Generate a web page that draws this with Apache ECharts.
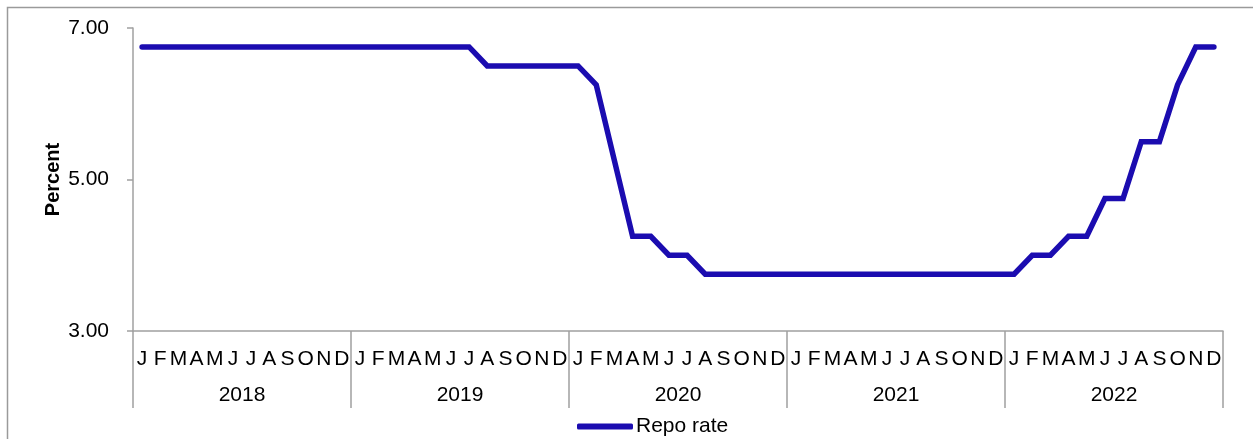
<!DOCTYPE html>
<html>
<head>
<meta charset="utf-8">
<script src="https://cdn.jsdelivr.net/npm/echarts@6/dist/echarts.min.js"></script>
<style>
  html, body { margin: 0; padding: 0; background: #fff; }
  #repoChart { width: 1253px; height: 439px; }
</style>
</head>
<body>
<div id="repoChart"></div>
<script>
// month letters, repeated for each year
const monthLetters = ['J', 'F', 'M', 'A', 'M', 'J', 'J', 'A', 'S', 'O', 'N', 'D']
const years = ['2018', '2019', '2020', '2021', '2022']

// repo rate (%) per month
const repo2018 = [6.75, 6.75, 6.75, 6.75, 6.75, 6.75, 6.75, 6.75, 6.75, 6.75, 6.75, 6.75]
const repo2019 = [6.75, 6.75, 6.75, 6.75, 6.75, 6.75, 6.75, 6.5, 6.5, 6.5, 6.5, 6.5]
const repo2020 = [6.5, 6.25, 5.25, 4.25, 4.25, 4.0, 4.0, 3.75, 3.75, 3.75, 3.75, 3.75]
const repo2021 = [3.75, 3.75, 3.75, 3.75, 3.75, 3.75, 3.75, 3.75, 3.75, 3.75, 3.75, 3.75]
const repo2022 = [3.75, 4.0, 4.0, 4.25, 4.25, 4.75, 4.75, 5.5, 5.5, 6.25, 6.75, 6.75]

const yTicks = [3, 5, 7]

let monthAxis = []
years.forEach(() => { monthAxis = monthAxis.concat(monthLetters) })
const repoRate = [].concat(repo2018, repo2019, repo2020, repo2021, repo2022)

const chart = echarts.init(document.getElementById('repoChart'))
const font = 'Liberation Sans, Arial, sans-serif'
const axisGrey = '#a0a0a0'

const option = {
  animation: false,
  backgroundColor: '#fff',
  graphic: [
    {
      // outer chart-area border (only top and left visible)
      type: 'rect',
      shape: { x: 7.5, y: 7.5, width: 1300, height: 500 },
      style: { fill: 'none', stroke: '#9a9a9a', lineWidth: 1.5 },
      silent: true
    }
  ],
  grid: {
    left: 133,
    right: 30,
    top: 28,
    bottom: 108,
    containLabel: false
  },
  legend: {
    data: ['Repo rate'],
    left: 572,
    top: 411,
    icon: 'roundRect',
    itemWidth: 56,
    itemHeight: 6,
    itemGap: 4,
    textStyle: { fontFamily: font, fontSize: 21, color: '#000', padding: [0, 0, 0, -2] }
  },
  xAxis: [
    {
      type: 'category',
      data: monthAxis,
      boundaryGap: true,
      axisLine: { show: true, lineStyle: { color: axisGrey, width: 1.5 } },
      axisTick: { show: false },
      axisLabel: {
        interval: 0,
        margin: 18,
        fontFamily: font,
        fontSize: 21,
        color: '#000'
      },
      splitLine: { show: false }
    },
    {
      type: 'category',
      data: years,
      position: 'bottom',
      boundaryGap: true,
      axisLine: { show: false },
      axisTick: { show: true, length: 77, lineStyle: { color: axisGrey, width: 1.5 } },
      axisLabel: {
        interval: 0,
        margin: 54,
        fontFamily: font,
        fontSize: 21,
        color: '#000'
      },
      splitLine: { show: false }
    }
  ],
  yAxis: {
    type: 'value',
    min: yTicks[0],
    max: yTicks[yTicks.length - 1],
    interval: 2,
    name: 'Percent',
    nameLocation: 'middle',
    nameGap: 70,
    nameMoveOverlap: false,
    nameTextStyle: { fontFamily: font, fontSize: 20, fontWeight: 'bold', color: '#000' },
    axisLine: { show: true, lineStyle: { color: axisGrey, width: 1.5 } },
    axisTick: { show: true, inside: false, length: 6, lineStyle: { color: axisGrey, width: 1.5 } },
    axisLabel: {
      margin: 24,
      fontFamily: font,
      fontSize: 21,
      color: '#000',
      formatter: v => v.toFixed(2)
    },
    splitLine: { show: false }
  },
  series: [
    {
      name: 'Repo rate',
      type: 'line',
      xAxisIndex: 0,
      data: repoRate,
      showSymbol: false,
      symbol: 'none',
      itemStyle: { color: '#1b0cb0' },
      lineStyle: { color: '#1b0cb0', width: 5.5, cap: 'round', join: 'miter' }
    }
  ]
}
chart.setOption(option)
window.addEventListener('resize', () => { chart.resize() })
</script>
</body>
</html>
